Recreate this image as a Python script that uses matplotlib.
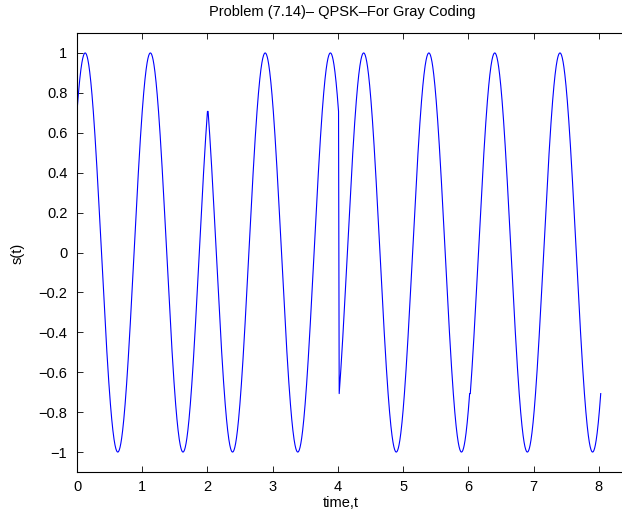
import numpy as np
import matplotlib
matplotlib.use("Agg")
import matplotlib.pyplot as plt

plt.rcParams['font.family'] = ['Liberation Sans', 'DejaVu Sans']

# QPSK symbols (Gray coding): carrier phase of each symbol
seg_starts = [0.0, 2.01, 4.02, 6.03]          # start time of each symbol
seg_phases = [-np.pi/4, np.pi/4, -3*np.pi/4, -3*np.pi/4]
symbol_dur = 2.0
carrier_freq = 1.0
xticks = [0, 1, 2, 3, 4, 5, 6, 7, 8]
yticks = [-1, -0.8, -0.6, -0.4, -0.2, 0, 0.2, 0.4, 0.6, 0.8, 1]
ytick_labels = ['\u22121', '\u22120.8', '\u22120.6', '\u22120.4', '\u22120.2', '0',
                '0.2', '0.4', '0.6', '0.8', '1']

tau = np.linspace(0, symbol_dur, 801)
t_all, s_all = [], []
for st, ph in zip(seg_starts, seg_phases):
    t_all.append(st + tau)
    s_all.append(np.cos(2*np.pi*carrier_freq*tau + ph))
t = np.concatenate(t_all)
s = np.concatenate(s_all)

fig = plt.figure(figsize=(6.22, 5.18), dpi=100)
ax = fig.add_axes([77/622, 46/518, (664-77)/622, (472-33)/518])
ax.plot(t, s, color='#0000ff', linewidth=0.8)
ax.set_xlim(0, 9)
ax.set_ylim(-1.1, 1.1)
ax.set_xticks(xticks)
ax.set_yticks(yticks)
ax.set_yticklabels(ytick_labels)
ax.tick_params(direction='in', top=True, right=True, labelsize=10.5, length=4, width=0.6)
ax.tick_params(axis='x', pad=6)
ax.tick_params(axis='y', pad=7)
for sp in ax.spines.values():
    sp.set_linewidth(0.8)

fig.text(342/622, 1 - 12/518, 'Problem (7.14)\u2013 QPSK\u2013For Gray Coding',
         ha='center', va='center', fontsize=10.5)
fig.text(341/622, 1 - 503/518, 'time,t', ha='center', va='center', fontsize=10.5)
fig.text(18/622, 1 - 253/518, 's(t)', ha='center', va='center', rotation=90, fontsize=10.5)

fig.savefig('out.png', dpi=100)
